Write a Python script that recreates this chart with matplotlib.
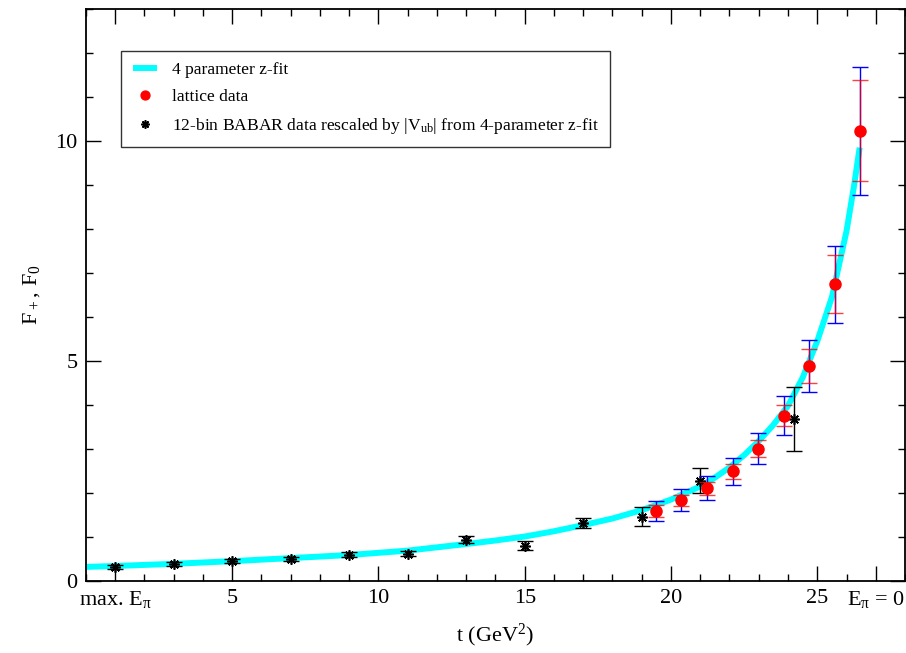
import numpy as np
import matplotlib.pyplot as plt
from matplotlib.ticker import MultipleLocator

plt.rcParams['font.family'] = ['Liberation Serif', 'DejaVu Serif']
plt.rcParams['mathtext.default'] = 'regular'

# 4 parameter z-fit curve
fit_t = [0, 1, 3, 5, 7, 9, 11, 13, 14, 15, 16, 17, 18, 19, 20, 21, 21.5, 22,
         22.5, 23, 23.5, 24, 24.5, 25, 25.5, 26, 26.25, 26.45]
fit_f = [0.32, 0.34, 0.39, 0.45, 0.52, 0.59, 0.69, 0.84, 0.92, 1.01, 1.13,
         1.27, 1.42, 1.61, 1.85, 2.15, 2.35, 2.58, 2.86, 3.18, 3.55, 3.98,
         4.62, 5.45, 6.45, 7.95, 8.95, 9.85]

# lattice data
lat_t = [19.49, 20.35, 21.23, 22.11, 22.97, 23.85, 24.71, 25.59, 26.46]
lat_f = [1.59, 1.83, 2.11, 2.49, 3.01, 3.76, 4.88, 6.74, 10.23]
lat_err_stat = [0.13, 0.13, 0.15, 0.17, 0.19, 0.23, 0.39, 0.66, 1.15]
lat_err_tot = [0.22, 0.25, 0.28, 0.31, 0.36, 0.44, 0.59, 0.87, 1.46]

# BABAR 12-bin data
bab_t = [1, 3, 5, 7, 9, 11, 13, 15, 17, 19, 21, 24.2]
bab_f = [0.32, 0.38, 0.45, 0.50, 0.60, 0.62, 0.94, 0.80, 1.32, 1.46, 2.28, 3.68]
bab_err = [0.04, 0.04, 0.04, 0.04, 0.05, 0.06, 0.08, 0.10, 0.12, 0.22, 0.29, 0.73]

xtick_pos = [1, 5, 10, 15, 20, 25, 27]
xtick_lab = ['max. E$_\\pi$', '5', '10', '15', '20', '25', 'E$_\\pi$ = 0']

fig = plt.figure(figsize=(9.06, 6.53), dpi=100)
ax = fig.add_axes([0.0949, 0.1103, 0.9040, 0.8759])

ax.plot(fit_t, fit_f, color='#00ffff', linewidth=4.3, zorder=2,
        solid_capstyle='butt', solid_joinstyle='round', label='4 parameter z-fit')

ax.errorbar(bab_t, bab_f, yerr=bab_err, fmt='none', ecolor='black',
            elinewidth=1.0, capsize=6, capthick=1.0, zorder=3)
ax.plot(bab_t, bab_f, linestyle='none', marker=(8, 2, 0), markersize=7.5,
        markeredgewidth=1.2, color='black', zorder=4,
        label='12-bin BABAR data rescaled by |V$_{ub}$| from 4-parameter z-fit')

ax.errorbar(lat_t, lat_f, yerr=lat_err_tot, fmt='none', ecolor='#0000ff',
            elinewidth=1.0, capsize=6, capthick=1.0, zorder=5)
ax.errorbar(lat_t, lat_f, yerr=lat_err_stat, fmt='none', ecolor='#ff0000',
            elinewidth=1.0, capsize=6, capthick=1.0, alpha=0.75, zorder=6)
ax.plot(lat_t, lat_f, linestyle='none', marker='o', markersize=8,
        color='#ff0000', zorder=7, label='lattice data')

ax.set_xlim(0, 28)
ax.set_ylim(0, 13)

ax.set_xticks(xtick_pos)
ax.set_xticklabels(xtick_lab)
ax.xaxis.set_minor_locator(MultipleLocator(1))
ax.set_yticks([0, 5, 10])
ax.yaxis.set_minor_locator(MultipleLocator(1))
ax.tick_params(which='both', direction='in', top=True, right=True,
               labelsize=16, width=1.0)
ax.tick_params(which='major', length=11, pad=6)
ax.tick_params(which='minor', length=5)
for s in ax.spines.values():
    s.set_linewidth(1.3)

ax.set_xlabel('t (GeV$^2$)', fontsize=16, labelpad=8)
ax.set_ylabel('F$_+$, F$_0$', fontsize=16, labelpad=10)

h, l = ax.get_legend_handles_labels()
order = [0, 2, 1]
leg = ax.legend([h[i] for i in order], [l[i] for i in order],
                loc='upper left', bbox_to_anchor=(0.043, 0.927), fontsize=12.6,
                frameon=True, fancybox=False, edgecolor='black',
                handlelength=1.4, handletextpad=0.85, borderpad=0.65,
                labelspacing=0.6, borderaxespad=0, markerscale=0.8)
leg.get_frame().set_linewidth(1.0)

plt.savefig('out.png', dpi=100)
